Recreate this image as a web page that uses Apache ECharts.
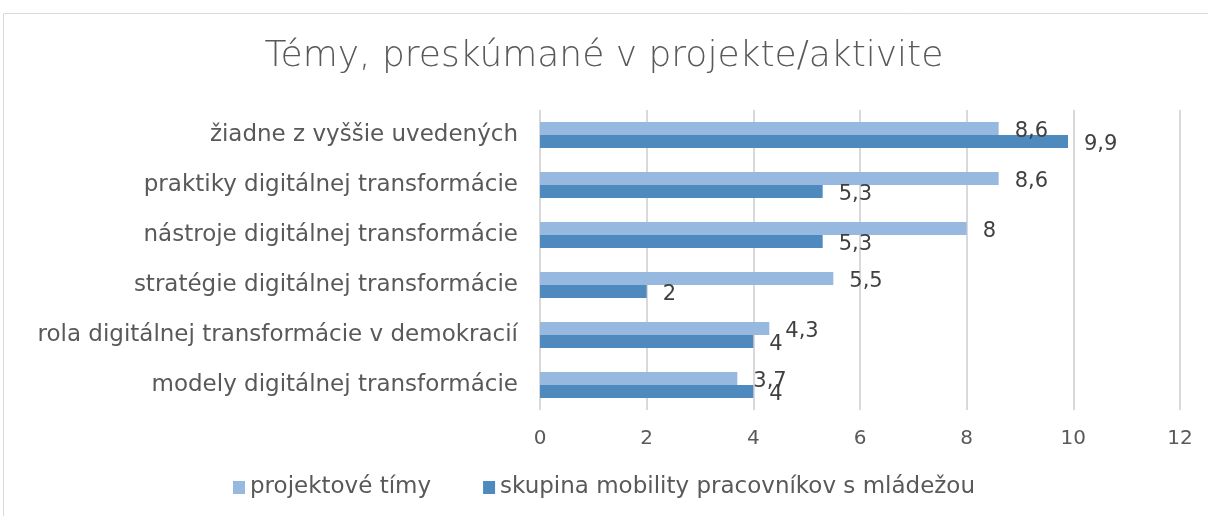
<!DOCTYPE html>
<html>
<head>
<meta charset="utf-8">
<script src="https://cdn.jsdelivr.net/npm/echarts@6/dist/echarts.min.js"></script>
<style>
  html, body { margin: 0; padding: 0; background: #fff; }
  #chart { width: 1208px; height: 516px; }
</style>
</head>
<body>
<div id="chart"></div>
<script>
// top to bottom, as in the picture
var categories = [
    'žiadne z vyššie uvedených',
    'praktiky digitálnej transformácie',
    'nástroje digitálnej transformácie',
    'stratégie digitálnej transformácie',
    'rola digitálnej transformácie v demokracií',
    'modely digitálnej transformácie'
];
var seriesNames = ['projektové tímy', 'skupina mobility pracovníkov s mládežou'];
var projektoveTimy = [8.6, 8.6, 8, 5.5, 4.3, 3.7];
var skupinaMobility = [9.9, 5.3, 5.3, 2, 4, 4];

var font = 'DejaVu Sans';
var textColor = '#595959';

function fmt(p) {
    return String(p.value).replace('.', ',');
}

var myChart = echarts.init(document.getElementById('chart'));
myChart.setOption({
    animation: false,
    color: ['#97b9e0', '#4f8abe'],
    textStyle: { fontFamily: font },
    graphic: [{
        type: 'rect',
        shape: { x: 3.5, y: 13.5, width: 1300, height: 600 },
        style: { fill: 'none', stroke: '#d9d9d9', lineWidth: 1 },
        silent: true
    }],
    title: {
        text: 'Témy, preskúmané v projekte/aktivite',
        left: 'center',
        top: 34,
        textStyle: { fontFamily: font, fontSize: 36, fontWeight: 200, color: textColor }
    },
    legend: {
        bottom: 12,
        left: 'center',
        itemWidth: 12,
        itemHeight: 13,
        itemGap: 52,
        icon: 'rect',
        textStyle: { fontFamily: font, fontSize: 23, color: textColor },
        data: seriesNames
    },
    grid: { left: 540, right: 28, top: 110, bottom: 106 },
    xAxis: {
        type: 'value',
        min: 0,
        max: 12,
        interval: 2,
        axisLine: { show: false },
        axisTick: { show: false },
        axisLabel: { fontFamily: font, fontSize: 20, color: textColor, margin: 19 },
        splitLine: { lineStyle: { color: '#d9d9d9', width: 2 } }
    },
    yAxis: {
        type: 'category',
        inverse: true,
        data: categories,
        axisLine: { show: false },
        axisTick: { show: false },
        axisLabel: { fontFamily: font, fontSize: 23, color: textColor, margin: 22 }
    },
    series: [
        {
            name: seriesNames[0],
            type: 'bar',
            data: projektoveTimy,
            barGap: '0%',
            barCategoryGap: '48%',
            label: {
                show: true,
                position: 'right',
                distance: 16,
                formatter: fmt,
                fontFamily: font,
                fontSize: 21,
                color: '#404040',
                offset: [0, 3]
            }
        },
        {
            name: seriesNames[1],
            type: 'bar',
            data: skupinaMobility,
            barGap: '0%',
            barCategoryGap: '48%',
            label: {
                show: true,
                position: 'right',
                distance: 16,
                formatter: fmt,
                fontFamily: font,
                fontSize: 21,
                color: '#404040',
                offset: [0, 3]
            }
        }
    ]
});

window.addEventListener('resize', function () {
    myChart.resize();
});
</script>
</body>
</html>
